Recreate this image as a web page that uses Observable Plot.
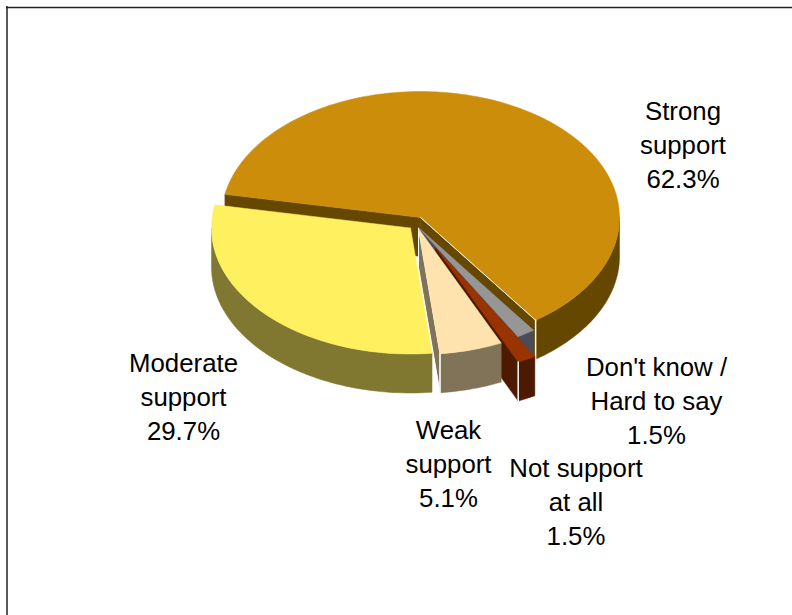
<!DOCTYPE html>
<html>
<head>
<meta charset="utf-8">
<script src="https://cdn.jsdelivr.net/npm/d3@7"></script>
<script src="https://cdn.jsdelivr.net/npm/@observablehq/plot@0.6"></script>
<style>
  html, body { margin: 0; padding: 0; background: #fff; }
  svg { display: block; }
</style>
</head>
<body>
<div id="chart"></div>
<script>
// Survey answers, clockwise from the first slice
const categories = ["Strong\nsupport", "Don't know /\nHard to say", "Not support\nat all", "Weak\nsupport", "Moderate\nsupport"];
const shares = [62.3, 1.5, 1.5, 5.1, 29.7];
const topColors = ["#cc8e0a", "#969696", "#993300", "#ffe3ae", "#fff060"];
const wallColors = ["#664700", "#4c4c56", "#4d1a00", "#807357", "#807830"];

// Pie geometry: tilted circle seen as an ellipse, each slice with its own pulled-out centre
const radiusX = 199, radiusY = 126, depth = 39, firstAngle = 280.6;
const centreX = [420, 418, 435, 418, 410];
const centreY = [217, 227, 247, 228, 227.5];

// Label anchors, in chart pixels
const labelX = [682.5, 656, 575.5, 448, 183];
const labelY = [142.5, 398.5, 499.5, 461.5, 394.5];
const labelText = categories.map((c, i) => c + "\n" + shares[i].toFixed(1) + "%");

const total = d3.sum(shares);
const point = (i, deg, drop = 0) => {
  const a = deg * Math.PI / 180;
  return {x: centreX[i] + radiusX * Math.sin(a), y: centreY[i] - radiusY * Math.cos(a) + drop};
};
const rim = (i, a0, a1, drop = 0) => {
  const n = Math.max(2, Math.ceil((a1 - a0) / 1.5));
  return d3.range(n + 1).map(k => point(i, a0 + (a1 - a0) * k / n, drop));
};
const closed = pts => [...pts, pts[0]];

// Angular span of every slice
let running = firstAngle;
const spans = shares.map(v => {
  const a0 = running;
  running += v / total * 360;
  return [a0, running];
});

// Front-facing stretch of the outer wall: the part of the rim between 90 and 270 degrees
const outerWalls = (i, a0, a1) => {
  const parts = [];
  for (const [lo, hi] of [[90, 270], [450, 630]]) {
    const s = Math.max(a0, lo), e = Math.min(a1, hi);
    if (e > s) parts.push(closed([...rim(i, s, e), ...rim(i, s, e, depth).reverse()]));
  }
  return parts;
};
const cutWall = (i, a) => {
  const apex = {x: centreX[i], y: centreY[i]};
  const edge = point(i, a);
  return closed([apex, edge, {x: edge.x, y: edge.y + depth}, {x: apex.x, y: apex.y + depth}]);
};
const topFace = i => closed([{x: centreX[i], y: centreY[i]}, ...rim(i, spans[i][0], spans[i][1])]);

const face = (pts, fill, stroke = fill, strokeWidth = 0.5) =>
  Plot.line(pts, {x: "x", y: "y", fill, stroke, strokeWidth, curve: "linear"});
const seam = (pts, strokeWidth) =>
  Plot.line(pts, {x: "x", y: "y", stroke: "#fff", strokeWidth, curve: "linear"});

// Slices are painted back to front
const sliceMarks = i => {
  const [a0, a1] = spans[i];
  const marks = [];
  if (i === 0) marks.push(face(cutWall(i, a0), wallColors[i]));
  if (i < 4) marks.push(face(cutWall(i, a1), wallColors[i], i === 3 ? "#fff" : wallColors[i], i === 3 ? 1 : 0.5));
  for (const w of outerWalls(i, a0, a1)) marks.push(face(w, wallColors[i]));
  marks.push(face(topFace(i), topColors[i]));
  if (i < 4 && i !== 1) {
    const e = point(i, a1);
    marks.push(seam([e, {x: e.x, y: e.y + depth}], 1.5));
  }
  if (i === 0) marks.push(seam([{x: centreX[0], y: centreY[0]}, point(0, a1)], 1));
  return marks;
};

const chart = Plot.plot({
  width: 792,
  height: 615,
  margin: 0,
  x: {domain: [0, 792], range: [0, 792], axis: null},
  y: {domain: [0, 615], range: [0, 615], axis: null},
  marks: [
    // Chart border, open at the right and bottom of the page
    Plot.ruleY([7], {x1: 6, x2: 792, stroke: "#222", strokeWidth: 1.5}),
    Plot.ruleX([6.5], {y1: 6, y2: 615, stroke: "#222", strokeWidth: 1.5}),
    ...[0, 1, 2, 3, 4].flatMap(sliceMarks),
    Plot.text(labelText, {
      x: (d, i) => labelX[i],
      y: (d, i) => labelY[i],
      text: d => d,
      fontFamily: "Liberation Sans",
      fontSize: 25.8,
      lineHeight: 1.318,
      fill: "#000",
      textAnchor: "middle"
    })
  ]
});
document.getElementById("chart").appendChild(chart);
</script>
</body>
</html>
